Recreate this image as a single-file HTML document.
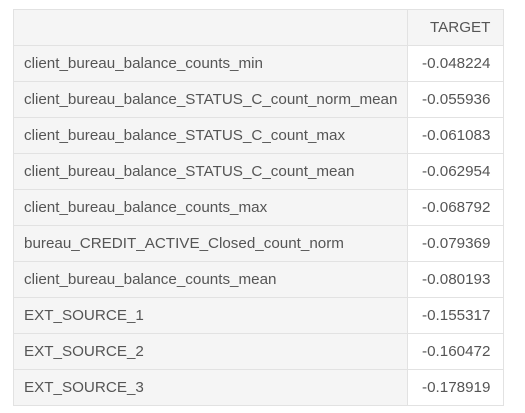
<!DOCTYPE html>
<html><head><style>
body{margin:0;background:#fff;width:525px;height:413px;overflow:hidden;font-family:"Liberation Sans",sans-serif;}
table{position:absolute;left:13px;top:9px;border-collapse:collapse;font-size:15.2px;color:#555;table-layout:fixed;}
td,th{border:1px solid #e2e2e2;height:35px;padding:0 10px;font-weight:normal;white-space:nowrap;}
th{background:#f5f5f5;text-align:right;}
td.k{background:#f5f5f5;text-align:left;}
td.v{background:#fff;text-align:right;padding-right:13px;}
</style></head><body>
<table>
<colgroup><col style="width:394px"><col style="width:96px"></colgroup>
<tr><th></th><th style="padding-right:13px">TARGET</th></tr>
<tr><td class="k">client_bureau_balance_counts_min</td><td class="v">-0.048224</td></tr>
<tr><td class="k">client_bureau_balance_STATUS_C_count_norm_mean</td><td class="v">-0.055936</td></tr>
<tr><td class="k">client_bureau_balance_STATUS_C_count_max</td><td class="v">-0.061083</td></tr>
<tr><td class="k">client_bureau_balance_STATUS_C_count_mean</td><td class="v">-0.062954</td></tr>
<tr><td class="k">client_bureau_balance_counts_max</td><td class="v">-0.068792</td></tr>
<tr><td class="k">bureau_CREDIT_ACTIVE_Closed_count_norm</td><td class="v">-0.079369</td></tr>
<tr><td class="k">client_bureau_balance_counts_mean</td><td class="v">-0.080193</td></tr>
<tr><td class="k">EXT_SOURCE_1</td><td class="v">-0.155317</td></tr>
<tr><td class="k">EXT_SOURCE_2</td><td class="v">-0.160472</td></tr>
<tr><td class="k">EXT_SOURCE_3</td><td class="v">-0.178919</td></tr>
</table>
</body></html>
